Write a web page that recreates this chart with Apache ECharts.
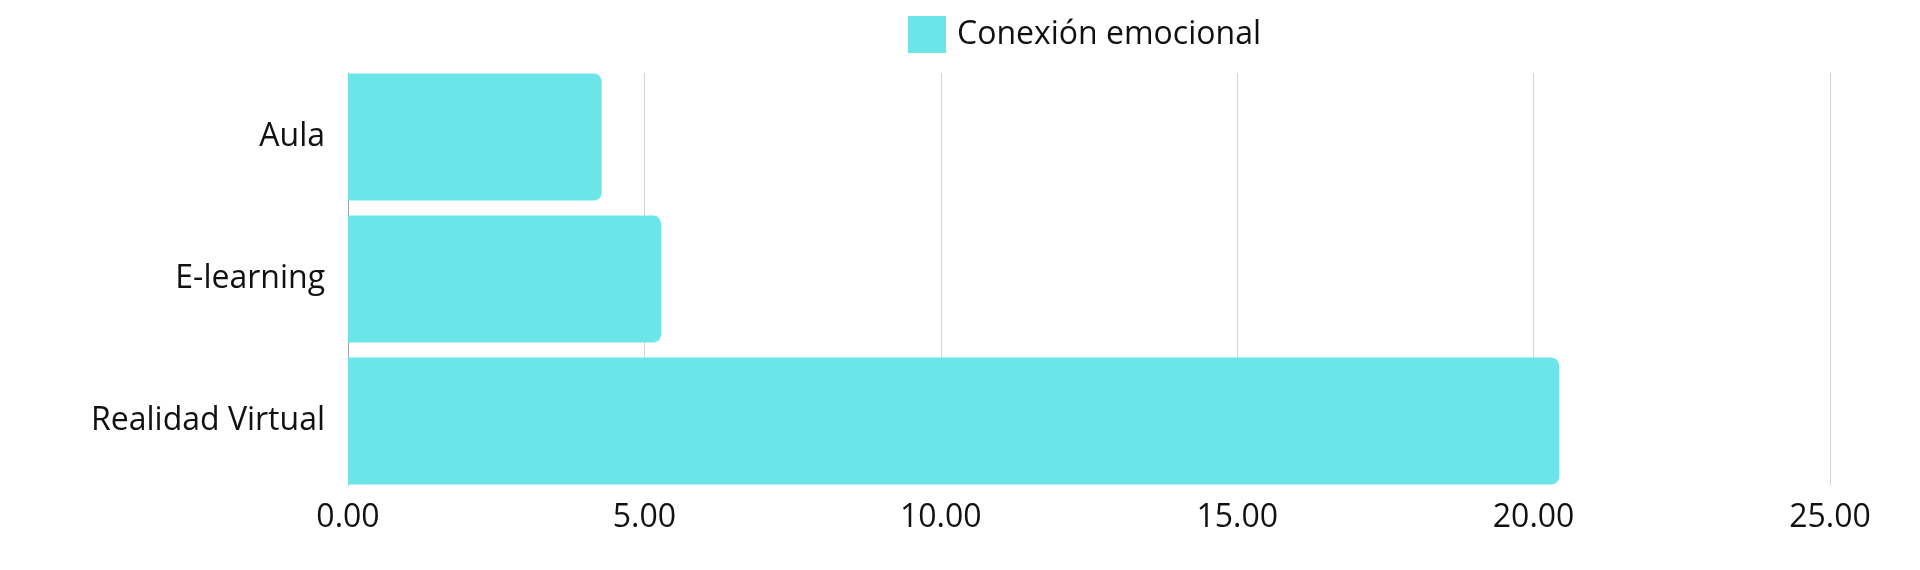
<!DOCTYPE html>
<html><head><meta charset="utf-8">
<script src="https://cdn.jsdelivr.net/npm/echarts@6/dist/echarts.min.js"></script>
<style>html,body{margin:0;padding:0;background:#fff}#c{width:1920px;height:570px}</style>
</head><body><div id="c"></div>
<script>
const categories = ['Aula', 'E-learning', 'Realidad Virtual'];
const seriesName = 'Conexión emocional';
const values = [4.28, 5.28, 20.43];
const xTicks = [0, 5, 10, 15, 20, 25];

const FONT = 'Open Sans';
const chart = echarts.init(document.getElementById('c'));
const xMin = xTicks[0], xMax = xTicks[xTicks.length - 1];
chart.setOption({
  animation: false,
  textStyle: { fontFamily: FONT },
  legend: {
    data: [seriesName],
    left: 903, top: 11,
    itemWidth: 38, itemHeight: 37, itemGap: 10,
    textStyle: { fontSize: 32, color: '#111', fontFamily: FONT, padding: [0, 0, 0, 6] },
    icon: 'rect'
  },
  grid: [
    { left: 348, right: 90, top: 66, bottom: 78 },
    { left: 348, right: 90, top: 73, bottom: 85 }
  ],
  xAxis: [
    { gridIndex: 0, type: 'value', min: xMin, max: xMax, interval: 5, show: false },
    {
      gridIndex: 1, type: 'value', min: xMin, max: xMax, interval: 5,
      axisLabel: { formatter: v => v.toFixed(2), fontSize: 32, color: '#111', margin: 17, fontFamily: FONT },
      splitLine: { lineStyle: { color: '#d4d4d4', width: 1 } },
      axisLine: { show: false }, axisTick: { show: false }
    }
  ],
  yAxis: [
    {
      gridIndex: 0, type: 'category', data: categories, inverse: true,
      axisLabel: { fontSize: 32, color: '#111', margin: 23, fontFamily: FONT },
      axisLine: { show: false }, axisTick: { show: false }, splitLine: { show: false }
    },
    {
      gridIndex: 1, type: 'category', data: categories, inverse: true,
      axisLabel: { show: false },
      axisLine: { show: true, lineStyle: { color: '#a0a0a0' } },
      axisTick: { show: false }, splitLine: { show: false }
    }
  ],
  series: [{
    name: seriesName, type: 'bar', data: values,
    xAxisIndex: 0, yAxisIndex: 0,
    barWidth: 127,
    itemStyle: { color: '#6CE5E8', borderRadius: [0, 8, 8, 0] }
  }]
});
</script></body></html>
